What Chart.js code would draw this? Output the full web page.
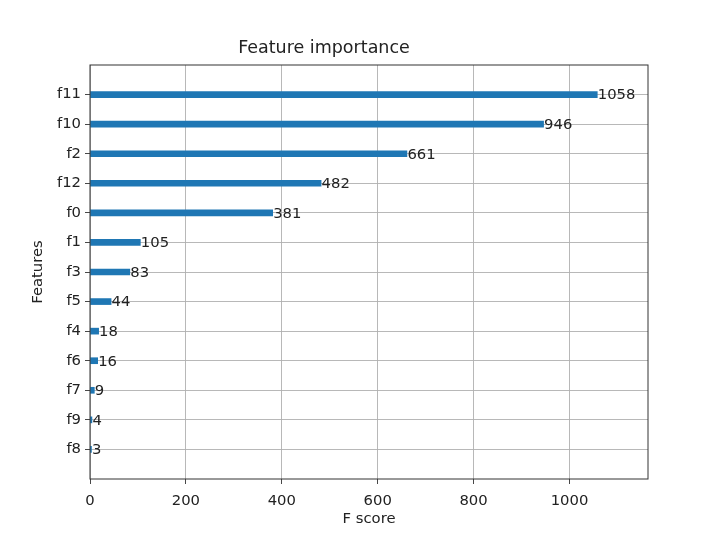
<!DOCTYPE html>
<html>
<head>
<meta charset="utf-8">
<script src="https://cdn.jsdelivr.net/npm/chart.js@4.4.1/dist/chart.umd.min.js"></script>
<style>
  html, body { margin: 0; padding: 0; background: #fff; }
  #wrap { width: 720px; height: 539px; }
</style>
</head>
<body>
<div id="wrap"><canvas id="myChart" width="720" height="539"></canvas></div>
<script>
// bottom to top, like the plot
const features = ['f8', 'f9', 'f7', 'f6', 'f4', 'f5', 'f3', 'f1', 'f0', 'f12', 'f2', 'f10', 'f11'];
const scores = [3, 4, 9, 16, 18, 44, 83, 105, 381, 482, 661, 946, 1058];
const xTicks = [0, 200, 400, 600, 800, 1000];
const xMax = 1163.8;

const FONT = 'DejaVu Sans';
const ctx = document.getElementById('myChart').getContext('2d');

// value next to every bar, and the box round the axes
const barLabels = {
    id: 'barLabels',
    afterDatasetsDraw(chart) {
        const c = chart.ctx;
        const xs = chart.scales.x;
        const meta = chart.getDatasetMeta(0);
        c.save();
        c.font = '14.8px ' + FONT;
        c.fillStyle = '#222';
        c.textAlign = 'left';
        c.textBaseline = 'middle';
        meta.data.forEach((bar, i) => {
            c.fillText(String(scores[i]), xs.getPixelForValue(scores[i] + 1), bar.y + 1);
        });
        c.restore();
    },
    afterDraw(chart) {
        const a = chart.chartArea;
        const c = chart.ctx;
        c.save();
        c.strokeStyle = '#333';
        c.lineWidth = 1;
        c.strokeRect(a.left, a.top, a.right - a.left, a.bottom - a.top);
        c.restore();
    }
};

const myChart = new Chart(ctx, {
    type: 'bar',
    data: {
        datasets: [{
            label: 'F score',
            data: features.map((f, i) => ({ x: scores[i], y: i })),
            backgroundColor: '#1f77b4',
            borderWidth: 0,
            barThickness: 6
        }]
    },
    options: {
        indexAxis: 'y',
        responsive: false,
        animation: false,
        layout: { padding: { left: 0, right: 72, top: 0, bottom: 0 } },
        scales: {
            x: {
                type: 'linear',
                min: 0,
                max: xMax,
                afterBuildTicks(scale) {
                    scale.ticks = xTicks.map(v => ({ value: v }));
                },
                afterFit(scale) { scale.height = 60; },
                grid: {
                    color: '#b0b0b0',
                    lineWidth: 0.9,
                    tickColor: '#333',
                    tickLength: 5
                },
                border: { display: false },
                ticks: {
                    color: '#222',
                    font: { family: FONT, size: 14.8 },
                    padding: 8,
                    maxRotation: 0,
                    callback: (v) => String(v)
                },
                title: {
                    display: true,
                    text: 'F score',
                    color: '#222',
                    font: { family: FONT, size: 14.8 },
                    padding: { top: 0, bottom: 11 }
                }
            },
            y: {
                type: 'linear',
                min: -1,
                max: 13,
                offset: false,
                afterBuildTicks(scale) {
                    scale.ticks = features.map((f, i) => ({ value: i }));
                },
                afterFit(scale) { scale.width = 90; },
                grid: {
                    offset: false,
                    color: '#b0b0b0',
                    lineWidth: 0.9,
                    tickColor: '#333',
                    tickLength: 5
                },
                border: { display: false },
                ticks: {
                    color: '#222',
                    font: { family: FONT, size: 14.8 },
                    padding: 4,
                    callback: (v) => features[v]
                },
                title: {
                    display: true,
                    text: 'Features',
                    color: '#222',
                    font: { family: FONT, size: 14.8 },
                    padding: { top: 29, bottom: 0 }
                }
            }
        },
        plugins: {
            legend: { display: false },
            tooltip: { enabled: false },
            title: {
                display: true,
                text: 'Feature importance',
                color: '#222',
                font: { family: FONT, size: 17.5, weight: 'normal' },
                padding: { top: 38, bottom: 6 }
            }
        }
    },
    plugins: [barLabels]
});
</script>
</body>
</html>
